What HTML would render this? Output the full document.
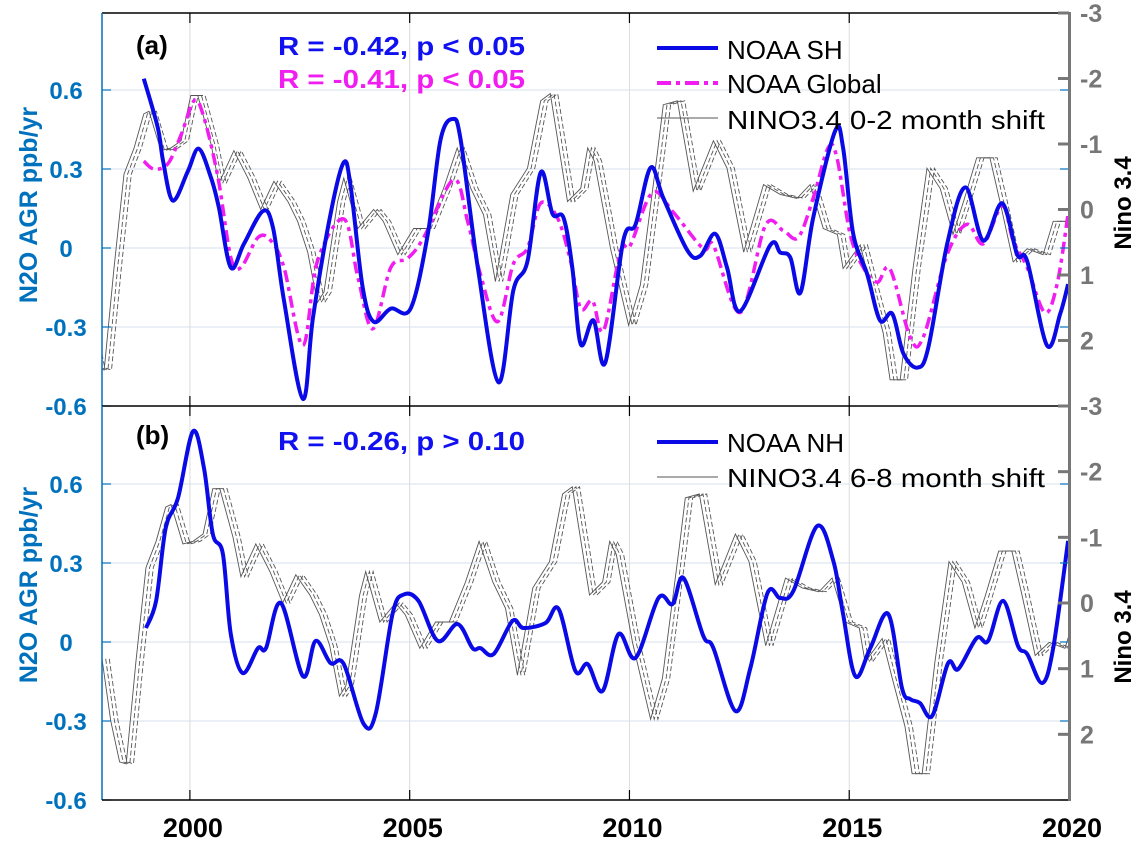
<!DOCTYPE html>
<html><head><meta charset="utf-8"><style>
html,body{margin:0;padding:0;background:#fff;}
svg{display:block;font-family:"Liberation Sans",Arial,sans-serif;}
</style></head><body>
<svg id="chart" width="1145" height="841" viewBox="0 0 1145 841" xmlns="http://www.w3.org/2000/svg">
<defs>
<clipPath id="clipA"><rect x="102" y="13" width="967" height="393"/></clipPath>
<clipPath id="clipB"><rect x="102" y="406" width="967" height="394"/></clipPath>
</defs>
<g id="grid"></g>
<g id="series"></g>
<g id="axes"></g>

<text x="136" y="54" font-size="26" font-weight="bold" fill="#000">(a)</text>
<text x="278" y="55" font-size="26" font-weight="bold" fill="#1010f0" textLength="247" lengthAdjust="spacingAndGlyphs">R = -0.42, p &lt; 0.05</text>
<text x="278" y="88" font-size="26" font-weight="bold" fill="#f01cf0" textLength="247" lengthAdjust="spacingAndGlyphs">R = -0.41, p &lt; 0.05</text>
<text x="136" y="444" font-size="26" font-weight="bold" fill="#000">(b)</text>
<text x="278" y="450" font-size="26" font-weight="bold" fill="#1010f0" textLength="247" lengthAdjust="spacingAndGlyphs">R = -0.26, p &gt; 0.10</text>

<g>
<line x1="657" y1="48" x2="718" y2="48" stroke="#0a0ae6" stroke-width="4"/>
<text x="727" y="59" font-size="26" fill="#000">NOAA SH</text>
<line x1="657" y1="83" x2="718" y2="83" stroke="#f01cf0" stroke-width="4" stroke-dasharray="14,5,4,5"/>
<text x="727" y="93" font-size="26" fill="#000">NOAA Global</text>
<line x1="657" y1="118" x2="718" y2="118" stroke="#555" stroke-width="0.9"/>
<text x="727" y="129" font-size="26" fill="#000" textLength="318" lengthAdjust="spacingAndGlyphs">NINO3.4 0-2 month shift</text>
</g>
<g>
<line x1="657" y1="442" x2="718" y2="442" stroke="#0a0ae6" stroke-width="4"/>
<text x="727" y="452" font-size="26" fill="#000">NOAA NH</text>
<line x1="657" y1="477" x2="718" y2="477" stroke="#555" stroke-width="0.9"/>
<text x="727" y="487" font-size="26" fill="#000" textLength="318" lengthAdjust="spacingAndGlyphs">NINO3.4 6-8 month shift</text>
</g>

<text transform="translate(37,205) rotate(-90)" text-anchor="middle" font-size="25" font-weight="bold" fill="#0072BD">N2O AGR ppb/yr</text>
<text transform="translate(37,585) rotate(-90)" text-anchor="middle" font-size="25" font-weight="bold" fill="#0072BD">N2O AGR ppb/yr</text>
<text transform="translate(1131,203) rotate(-90)" text-anchor="middle" font-size="24" font-weight="bold" fill="#000">Nino 3.4</text>
<text transform="translate(1131,637) rotate(-90)" text-anchor="middle" font-size="24" font-weight="bold" fill="#000">Nino 3.4</text>
</svg>
<script>
// ---- data ----
const xTicks = [2000, 2005, 2010, 2015, 2020];
const leftTicks = [0.6, 0.3, 0, -0.3, -0.6];
const rightTicks = [-3, -2, -1, 0, 1, 2];
const ninoYears = [1997.5,1997.7,1997.9,1998.05,1998.27,1998.5,1998.73,1998.95,1999.07,1999.34,1999.57,1999.8,2000.02,2000.18,2000.48,2000.66,2001.0,2001.32,2001.61,2001.91,2002.23,2002.45,2002.68,2002.9,2003.05,2003.36,2003.5,2003.82,2004.18,2004.4,2004.73,2005.09,2005.4,2005.77,2006.08,2006.39,2006.68,2006.95,2007.3,2007.68,2007.98,2008.2,2008.59,2008.89,2009.05,2009.2,2009.57,2009.98,2010.25,2010.64,2010.77,2011.09,2011.45,2011.91,2012.22,2012.6,2013.05,2013.43,2013.81,2014.11,2014.41,2014.73,2014.86,2015.25,2015.48,2015.77,2015.93,2016.16,2016.45,2016.77,2017.07,2017.36,2017.6,2017.9,2018.2,2018.43,2018.73,2019.05,2019.41,2019.64,2019.95,2020.1];
const ninoValues = [0.85,1.8,2.42,2.45,0.91,-0.54,-0.94,-1.46,-1.5,-0.9,-0.94,-1.05,-1.74,-1.74,-1.0,-0.4,-0.9,-0.48,0,-0.43,-0.12,0.18,0.65,1.42,1.26,-0.12,-0.48,0.29,0,0.18,0.69,0.29,0.29,-0.32,-0.94,-0.32,0.08,1.1,-0.23,-0.63,-1.66,-1.77,-0.12,-0.32,-0.94,-0.74,0.6,1.77,1.15,-0.89,-1.6,-1.66,-0.28,-1.05,-0.63,0.65,-0.38,-0.23,-0.17,-0.38,0.29,0.38,0.9,0.54,1.15,1.88,2.6,2.6,0.9,-0.63,-0.32,0.38,-0.12,-0.79,-0.79,-0.12,0.8,0.6,0.69,0.18,0.18,0.3];
const shYears = [1998.95,1999.27,1999.39,1999.61,1999.95,2000.2,2000.48,2000.66,2000.93,2001.23,2001.66,2001.89,2002.14,2002.57,2002.8,2003.2,2003.5,2003.66,2003.93,2004.18,2004.57,2005.02,2005.41,2005.7,2005.98,2006.16,2006.55,2007.02,2007.36,2007.68,2007.98,2008.25,2008.5,2008.7,2008.89,2009.18,2009.45,2009.86,2010.14,2010.48,2010.77,2011.32,2011.61,2011.95,2012.22,2012.52,2013.2,2013.43,2013.66,2013.89,2014.18,2014.68,2014.86,2015.09,2015.41,2015.7,2015.98,2016.23,2016.55,2016.8,2017.23,2017.64,2018.05,2018.48,2018.82,2019.05,2019.5,2019.8,2019.98];
const shValues = [0.643,0.457,0.33,0.18,0.29,0.377,0.267,0.153,-0.074,0.016,0.14,0.077,-0.2,-0.573,-0.264,0.13,0.325,0.23,-0.15,-0.28,-0.23,-0.23,0.05,0.41,0.49,0.41,-0.074,-0.51,-0.16,-0.05,0.287,0.13,0.115,-0.074,-0.365,-0.275,-0.435,0.028,0.09,0.305,0.19,-0.01,-0.03,0.054,-0.074,-0.24,0.01,-0.017,-0.036,-0.17,0.115,0.445,0.38,0.054,-0.1,-0.275,-0.25,-0.4,-0.454,-0.378,0.016,0.23,0.028,0.17,-0.024,-0.05,-0.37,-0.25,-0.137];
const globalYears = [1998.95,1999.18,1999.5,1999.8,2000.1,2000.32,2000.64,2000.93,2001.16,2001.55,2001.84,2002.14,2002.57,2002.9,2003.5,2003.82,2004.16,2004.57,2004.95,2005.32,2006.0,2006.32,2006.61,2007.0,2007.36,2007.68,2007.98,2008.36,2008.66,2008.89,2009.16,2009.41,2009.8,2010.02,2010.52,2011.0,2011.68,2011.91,2012.52,2013.09,2013.5,2013.84,2014.18,2014.52,2014.72,2015.02,2015.32,2015.64,2015.93,2016.39,2016.68,2017.23,2017.68,2018.05,2018.48,2018.73,2019.05,2019.45,2019.73,2019.98];
const globalValues = [0.33,0.3,0.32,0.43,0.56,0.495,0.267,-0.036,-0.074,0.04,0.028,-0.074,-0.37,-0.05,0.11,-0.11,-0.307,-0.074,-0.04,0.04,0.26,0.1,-0.1,-0.28,-0.06,0.0,0.17,0.115,-0.05,-0.23,-0.2,-0.314,-0.01,0.01,0.21,0.135,-0.003,0.01,-0.245,0.085,0.066,0.04,0.19,0.38,0.343,0.054,-0.074,-0.13,-0.08,-0.34,-0.34,-0.024,0.09,0.016,0.16,0.028,-0.074,-0.245,-0.137,0.13];
const nhYears = [1999.0,1999.23,1999.45,1999.73,2000.07,2000.32,2000.52,2000.75,2000.93,2001.2,2001.55,2001.73,2002.07,2002.57,2002.86,2003.2,2003.5,2003.95,2004.23,2004.61,2004.86,2005.2,2005.64,2006.09,2006.43,2006.61,2006.91,2007.34,2007.59,2008.09,2008.39,2008.77,2009.05,2009.39,2009.75,2010.14,2010.66,2010.98,2011.23,2011.68,2011.91,2012.41,2012.75,2013.14,2013.43,2013.73,2014.27,2014.64,2014.86,2015.14,2015.48,2015.89,2016.2,2016.39,2016.61,2016.89,2017.25,2017.48,2017.9,2018.16,2018.5,2018.84,2019.05,2019.39,2019.64,2019.98];
const nhValues = [0.053,0.156,0.433,0.547,0.8,0.66,0.41,0.334,0.03,-0.118,-0.023,-0.023,0.148,-0.13,0.004,-0.08,-0.084,-0.31,-0.27,0.106,0.18,0.156,0.004,0.068,-0.023,-0.023,-0.046,0.08,0.053,0.072,0.125,-0.11,-0.084,-0.186,0.03,-0.06,0.167,0.144,0.243,0.023,-0.023,-0.262,-0.1,0.186,0.167,0.194,0.44,0.307,0.106,-0.13,-0.023,0.106,-0.175,-0.217,-0.232,-0.28,-0.08,-0.103,0.015,0.004,0.156,-0.015,-0.046,-0.156,-0.023,0.384];
const ninoShiftsA = [0, 1, 2];   // months
const ninoShiftsB = [6, 7, 8];   // months

// ---- scales ----
const X0 = 102, X1 = 1069, YR0 = 1998, YR1 = 2020;
function xs(y){ return X0 + (y - YR0) / (YR1 - YR0) * (X1 - X0); }
const PX_PER = 79 / 0.3;
const panels = [
  {top:13, bottom:406, clip:'clipA', key:'a'},
  {top:406, bottom:800, clip:'clipB', key:'b'}
];
function yl(p, v){ return p.bottom - (v + 0.6) * PX_PER; }
function yr(p, n){ return p.top + (n + 3) / 6 * (p.bottom - p.top); }

const NS = 'http://www.w3.org/2000/svg';
function mk(tag, attrs, parent){ const e = document.createElementNS(NS, tag); for (const k in attrs) e.setAttribute(k, attrs[k]); parent.appendChild(e); return e; }
const grid = document.getElementById('grid'), series = document.getElementById('series'), axes = document.getElementById('axes');

function smoothPath(pts){
  let d = 'M' + pts[0][0].toFixed(1) + ',' + pts[0][1].toFixed(1);
  for (let i = 0; i < pts.length - 1; i++){
    const p0 = pts[Math.max(0, i-1)], p1 = pts[i], p2 = pts[i+1], p3 = pts[Math.min(pts.length-1, i+2)];
    const c1 = [p1[0] + (p2[0]-p0[0])/6, p1[1] + (p2[1]-p0[1])/6];
    const c2 = [p2[0] - (p3[0]-p1[0])/6, p2[1] - (p3[1]-p1[1])/6];
    d += 'C' + c1[0].toFixed(1)+','+c1[1].toFixed(1)+' '+c2[0].toFixed(1)+','+c2[1].toFixed(1)+' '+p2[0].toFixed(1)+','+p2[1].toFixed(1);
  }
  return d;
}
function linePath(pts){ return pts.map((p,i)=>(i?'L':'M')+p[0].toFixed(1)+','+p[1].toFixed(1)).join(''); }

panels.forEach(p => {
  leftTicks.forEach(v => {
    const gl = mk('line', {x1:X0, x2:X1, y1:yl(p,v), y2:yl(p,v), stroke:'#d6e2ec', 'stroke-width':1}, grid);
    
    
  });
  xTicks.forEach(t => {
    const gv = mk('line', {x1:xs(t), x2:xs(t), y1:p.top, y2:p.bottom, stroke:'#dcdcdc', 'stroke-width':1}, grid);
    
    
  });
  const g = mk('g', {'clip-path':'url(#'+p.clip+')'}, series);
  
  
  const shifts = p.key === 'a' ? ninoShiftsA : ninoShiftsB;
  shifts.forEach((s, i) => {
    const pts = ninoYears.map((yy, j) => [xs(yy + s/12), yr(p, ninoValues[j])]);
    const ln = mk('path', {d:linePath(pts), fill:'none', stroke:'#555', 'stroke-width':0.9, 'stroke-dasharray': i === 0 ? 'none' : '5,2.5'}, g);
    
    
  });
  if (p.key === 'a'){
    const gp = mk('path', {d:smoothPath(globalYears.map((yy,j)=>[xs(yy), yl(p, globalValues[j])])), fill:'none', stroke:'#f01cf0', 'stroke-width':3.5, 'stroke-dasharray':'12,5,4,5'}, g);
    
    
    const sp = mk('path', {d:smoothPath(shYears.map((yy,j)=>[xs(yy), yl(p, shValues[j])])), fill:'none', stroke:'#0a0ae6', 'stroke-width':4}, g);
    
    
  } else {
    const np = mk('path', {d:smoothPath(nhYears.map((yy,j)=>[xs(yy), yl(p, nhValues[j])])), fill:'none', stroke:'#0a0ae6', 'stroke-width':4}, g);
    
    
  }
  const top = mk('line', {x1:X0, x2:X1, y1:p.top, y2:p.top, stroke:'#000', 'stroke-width':1.5}, axes);
  
  
  const la = mk('line', {x1:X0, x2:X0, y1:p.top, y2:p.bottom, stroke:'#0072BD', 'stroke-width':1.5}, axes);
  
  
  xTicks.forEach(t => {
    const tk1 = mk('line', {x1:xs(t), x2:xs(t), y1:p.top, y2:p.top+10, stroke:'#000', 'stroke-width':1.2}, axes);
    
    
    const tk2 = mk('line', {x1:xs(t), x2:xs(t), y1:p.bottom-10, y2:p.bottom, stroke:'#000', 'stroke-width':1.2}, axes);
    
    
  });
  leftTicks.forEach(v => {
    const y = yl(p, v);
    const t = mk('line', {x1:X0, x2:X0+9, y1:y, y2:y, stroke:'#0072BD', 'stroke-width':1.2}, axes);
    
    
    const t2 = mk('line', {x1:X1-9, x2:X1, y1:y, y2:y, stroke:'#0072BD', 'stroke-width':1.2}, axes);
    
    
    const lb = mk('text', {x:66, y:y+9, 'text-anchor':'middle', 'font-size':24, 'font-weight':'bold', fill:'#0072BD'}, axes);
    lb.textContent = (v === 0 ? '0' : v.toFixed(1));
    
    
  });
  rightTicks.forEach(n => {
    const y = yr(p, n);
    const t = mk('line', {x1:X1-11, x2:X1, y1:y, y2:y, stroke:'#777', 'stroke-width':3}, axes);
    
    
    const lb = mk('text', {x:1080, y:y+9, 'font-size':25, 'font-weight':'bold', fill:'#777'}, axes);
    lb.textContent = String(n);
    
    
  });
});
const bx = mk('line', {x1:X0, x2:X1, y1:800, y2:800, stroke:'#000', 'stroke-width':1.5}, axes);


const ra = mk('line', {x1:X1+0.5, x2:X1+0.5, y1:12, y2:801, stroke:'#777', 'stroke-width':3}, axes);


xTicks.forEach(t => {
  const lb = mk('text', {x:xs(t)+3, y:837, 'text-anchor':'middle', 'font-size':27, 'font-weight':'bold', fill:'#000'}, axes);
  lb.textContent = String(t);
  
  
});
</script>
</body></html>
